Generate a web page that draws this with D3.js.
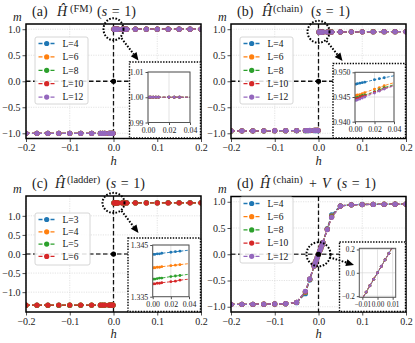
<!DOCTYPE html>
<html><head><meta charset="utf-8">
<script src="https://cdn.jsdelivr.net/npm/d3@7"></script>
<style>
html,body{margin:0;padding:0;background:#fff;}
svg{display:block;font-family:"Liberation Serif","Times New Roman",serif;}
svg text{font-family:"Liberation Serif","Times New Roman",serif;}
</style></head>
<body><svg id="c" width="415" height="343"></svg>
<script>
// ---------------- data ----------------
const hNeg = [-0.2,-0.175,-0.15,-0.125,-0.1,-0.075,-0.05,-0.03,-0.025,-0.02,-0.01,-0.0075,-0.005,-0.0025,-0.001];
const hPos = [0.001,0.0025,0.005,0.0075,0.01,0.02,0.025,0.03,0.05,0.075,0.1,0.125,0.15,0.175,0.2];
const hD   = [-0.2,-0.175,-0.15,-0.125,-0.1,-0.075,-0.05,-0.03,-0.02,-0.01,-0.0075,-0.005,-0.0025,0,0.0025,0.005,0.0075,0.01,0.02,0.03,0.05,0.075,0.1,0.125,0.15,0.175,0.2];

const labelsChain  = ["L=4","L=6","L=8","L=10","L=12"];
const labelsLadder = ["L=3","L=4","L=5","L=6"];
const colors = ["#1f77b4","#ff7f0e","#2ca02c","#d62728","#9467bd"];

// (a) FM model: saturated magnetisation, identical for all L
const mFMneg = [-1,-1,-1,-1,-1,-1,-1,-1,-1,-1,-1,-1,-1,-1,-1];
const mFMpos = [1,1,1,1,1,1,1,1,1,1,1,1,1,1,1];

// (b) chain model
const mChainPos = [
  [0.9476,0.9477,0.9478,0.9479,0.9480,0.9485,0.9487,0.9489,0.9497,0.9506,0.9514,0.9521,0.9527,0.9532,0.9536],
  [0.9453,0.9454,0.9455,0.9457,0.9459,0.9466,0.9469,0.9473,0.9485,0.9498,0.9509,0.9518,0.9526,0.9532,0.9537],
  [0.9448,0.9449,0.9451,0.9453,0.9454,0.9461,0.9465,0.9469,0.9481,0.9495,0.9507,0.9516,0.9524,0.9530,0.9535],
  [0.9446,0.9447,0.9449,0.9451,0.9452,0.9460,0.9463,0.9467,0.9480,0.9494,0.9506,0.9515,0.9523,0.9529,0.9534],
  [0.9443,0.9444,0.9446,0.9448,0.9450,0.9458,0.9462,0.9466,0.9479,0.9493,0.9505,0.9514,0.9522,0.9528,0.9533]
];
const mChainNeg = [
  [-0.9536,-0.9532,-0.9527,-0.9521,-0.9514,-0.9506,-0.9497,-0.9489,-0.9487,-0.9485,-0.9480,-0.9479,-0.9478,-0.9477,-0.9476],
  [-0.9537,-0.9532,-0.9526,-0.9518,-0.9509,-0.9498,-0.9485,-0.9473,-0.9469,-0.9466,-0.9459,-0.9457,-0.9455,-0.9454,-0.9453],
  [-0.9535,-0.9530,-0.9524,-0.9516,-0.9507,-0.9495,-0.9481,-0.9469,-0.9465,-0.9461,-0.9454,-0.9453,-0.9451,-0.9449,-0.9448],
  [-0.9534,-0.9529,-0.9523,-0.9515,-0.9506,-0.9494,-0.9480,-0.9467,-0.9463,-0.9460,-0.9452,-0.9451,-0.9449,-0.9447,-0.9446],
  [-0.9533,-0.9528,-0.9522,-0.9514,-0.9505,-0.9493,-0.9479,-0.9466,-0.9462,-0.9458,-0.9450,-0.9448,-0.9446,-0.9444,-0.9443]
];

// (c) ladder model
const mLadderPos = [
  [1.3432,1.3432,1.3433,1.3433,1.3434,1.3436,1.3437,1.3438,1.3442,1.3446,1.3450,1.3453,1.3456,1.3459,1.3461],
  [1.3406,1.3406,1.3407,1.3407,1.3408,1.3410,1.3411,1.3412,1.3416,1.3420,1.3424,1.3427,1.3430,1.3433,1.3435],
  [1.3384,1.3384,1.3385,1.3386,1.3386,1.3389,1.3390,1.3391,1.3396,1.3401,1.3405,1.3409,1.3412,1.3415,1.3418],
  [1.3375,1.3375,1.3376,1.3376,1.3377,1.3379,1.3380,1.3382,1.3386,1.3390,1.3394,1.3398,1.3401,1.3404,1.3406]
];
const mLadderNeg = [
  [-1.3461,-1.3459,-1.3456,-1.3453,-1.3450,-1.3446,-1.3442,-1.3438,-1.3437,-1.3436,-1.3434,-1.3433,-1.3433,-1.3432,-1.3432],
  [-1.3435,-1.3433,-1.3430,-1.3427,-1.3424,-1.3420,-1.3416,-1.3412,-1.3411,-1.3410,-1.3408,-1.3407,-1.3407,-1.3406,-1.3406],
  [-1.3418,-1.3415,-1.3412,-1.3409,-1.3405,-1.3401,-1.3396,-1.3391,-1.3390,-1.3389,-1.3386,-1.3386,-1.3385,-1.3384,-1.3384],
  [-1.3406,-1.3404,-1.3401,-1.3398,-1.3394,-1.3390,-1.3386,-1.3382,-1.3380,-1.3379,-1.3377,-1.3376,-1.3376,-1.3375,-1.3375]
];

// (d) chain + V
const mChainV = [
  [-0.957,-0.956,-0.954,-0.952,-0.949,-0.944,-0.922,-0.750,-0.490,-0.225,-0.168,-0.112,-0.056,0,0.056,0.112,0.168,0.225,0.490,0.750,0.922,0.944,0.949,0.952,0.954,0.956,0.957],
  [-0.956,-0.955,-0.953,-0.951,-0.948,-0.943,-0.919,-0.725,-0.480,-0.222,-0.166,-0.111,-0.055,0,0.055,0.111,0.166,0.222,0.480,0.725,0.919,0.943,0.948,0.951,0.953,0.955,0.956],
  [-0.955,-0.954,-0.952,-0.950,-0.947,-0.942,-0.918,-0.715,-0.475,-0.221,-0.165,-0.110,-0.055,0,0.055,0.110,0.165,0.221,0.475,0.715,0.918,0.942,0.947,0.950,0.952,0.954,0.955],
  [-0.955,-0.954,-0.952,-0.950,-0.947,-0.942,-0.917,-0.710,-0.472,-0.220,-0.165,-0.110,-0.055,0,0.055,0.110,0.165,0.220,0.472,0.710,0.917,0.942,0.947,0.950,0.952,0.954,0.955],
  [-0.955,-0.954,-0.952,-0.950,-0.947,-0.942,-0.917,-0.705,-0.470,-0.220,-0.165,-0.110,-0.055,0,0.055,0.110,0.165,0.220,0.470,0.705,0.917,0.942,0.947,0.950,0.952,0.954,0.955]
];

const mainXTicks = [-0.2,-0.1,0.0,0.1,0.2];
const mainYTicks = [-1.0,-0.5,0.0,0.5,1.0];

// ---------------- drawing ----------------
const FONT = "Liberation Serif, Times New Roman, serif";
const svg = d3.select("#c");
let clipId = 0;

function drawAxesBox(g, x, y, xTicks, yTicks, xFmt, yFmt, fs, tickLen, gridDash) {
  const [xl, xr] = x.range(); const [yb, yt] = y.range();
  g.append("g").selectAll("line").data(xTicks).join("line")
    .attr("x1", d => x(d)).attr("x2", d => x(d)).attr("y1", yt).attr("y2", yb)
    .attr("stroke", "#d0d0d0").attr("stroke-width", 0.6).attr("stroke-dasharray", gridDash);
  g.append("g").selectAll("line").data(yTicks).join("line")
    .attr("y1", d => y(d)).attr("y2", d => y(d)).attr("x1", xl).attr("x2", xr)
    .attr("stroke", "#d0d0d0").attr("stroke-width", 0.6).attr("stroke-dasharray", gridDash);
  const ax = g.append("g").attr("transform", `translate(0,${yb})`)
    .call(d3.axisBottom(x).tickValues(xTicks).tickFormat(xFmt).tickSize(tickLen).tickSizeOuter(0).tickPadding(2));
  const ay = g.append("g").attr("transform", `translate(${xl},0)`)
    .call(d3.axisLeft(y).tickValues(yTicks).tickFormat(yFmt).tickSize(tickLen).tickSizeOuter(0).tickPadding(2));
  [ax, ay].forEach(a => {
    a.attr("font-family", FONT).attr("font-size", fs);
    a.select(".domain").remove();
    a.selectAll("text").attr("font-size", fs).attr("fill", "#222").attr("font-family", FONT);
    a.selectAll("line").attr("stroke", "#222").attr("stroke-width", 0.8);
  });
}

function frame(g, x, y, w, c) {
  const [xl, xr] = x.range(); const [yb, yt] = y.range();
  g.append("rect").attr("x", xl).attr("y", yt).attr("width", xr - xl).attr("height", yb - yt)
    .attr("fill", "none").attr("stroke", c).attr("stroke-width", w);
}

function clip(g, x, y) {
  const id = "clip" + (clipId++);
  const [xl, xr] = x.range(); const [yb, yt] = y.range();
  svg.append("clipPath").attr("id", id).append("rect")
    .attr("x", xl).attr("y", yt).attr("width", xr - xl).attr("height", yb - yt);
  return g.append("g").attr("clip-path", `url(#${id})`);
}

function drawSeries(g, x, y, segsPerSeries, r, lw, dash) {
  const line = d3.line().x(d => x(d[0])).y(d => y(d[1]));
  segsPerSeries.forEach((segs, k) => {
    const col = colors[k];
    segs.forEach(seg => {
      g.append("path").attr("d", line(seg)).attr("fill", "none").attr("stroke", col)
        .attr("stroke-width", lw).attr("stroke-dasharray", dash);
      g.append("g").selectAll("circle").data(seg).join("circle")
        .attr("cx", d => x(d[0])).attr("cy", d => y(d[1])).attr("r", r).attr("fill", col);
    });
  });
}

function panel(P) {
  const g = svg.append("g");
  const x = d3.scaleLinear([-0.2, 0.2], [P.ax.l, P.ax.r]);
  const y = d3.scaleLinear(P.ydom, [P.ax.b, P.ax.t]);
  drawAxesBox(g, x, y, mainXTicks, mainYTicks, d3.format(".1f"), d3.format(".1f"), 10, 3.5, "1.2,1.2");
  const cg = clip(g, x, y);
  cg.append("line").attr("x1", x(0)).attr("x2", x(0)).attr("y1", P.ax.t).attr("y2", P.ax.b)
    .attr("stroke", "#111").attr("stroke-width", 1.3).attr("stroke-dasharray", "4.5,2.5");
  cg.append("line").attr("x1", P.ax.l).attr("x2", P.ax.r).attr("y1", y(0)).attr("y2", y(0))
    .attr("stroke", P.hcol).attr("stroke-width", 1.3).attr("stroke-dasharray", "4.5,2.5");
  drawSeries(cg, x, y, P.series, 2.6, 1.3, "4,2");
  cg.append("circle").attr("cx", x(0)).attr("cy", y(0)).attr("r", 2.6).attr("fill", "#000");
  frame(g, x, y, 1.5, "#000");

  // inset
  const I = P.inset;
  g.append("rect").attr("x", I.box.l).attr("y", I.box.t).attr("width", I.box.r - I.box.l).attr("height", I.box.b - I.box.t)
    .attr("fill", "#fff").attr("stroke", "#000").attr("stroke-width", 1.4).attr("stroke-dasharray", "1.4,1.4");
  const xi = d3.scaleLinear(I.xdom, [I.ax.l, I.ax.r]);
  const yi = d3.scaleLinear(I.ydom, [I.ax.b, I.ax.t]);
  drawAxesBox(g, xi, yi, I.xticks, I.yticks, d3.format(I.xfmt), d3.format(I.yfmt), I.fs || 7.8, 2.5, null);
  const ci = clip(g, xi, yi);
  drawSeries(ci, xi, yi, P.series, 1.4, 0.9, "3,1.5");
  frame(g, xi, yi, 1, "#555");

  // circle + arrow
  const cx = x(P.circ.h), cy = y(P.circ.m);
  g.append("ellipse").attr("cx", cx).attr("cy", cy).attr("rx", P.circ.rx).attr("ry", P.circ.ry)
    .attr("fill", "none").attr("stroke", "#000").attr("stroke-width", 2).attr("stroke-dasharray", "1.6,1.6");
  const s = [cx + P.arrow.sx, cy + P.arrow.sy], e = [P.arrow.ex, P.arrow.ey];
  const dx = e[0] - s[0], dy = e[1] - s[1], L = Math.hypot(dx, dy), ux = dx / L, uy = dy / L;
  const hl = 8, hw = 3.6;
  const b = [e[0] - ux * hl, e[1] - uy * hl];
  g.append("line").attr("x1", s[0]).attr("y1", s[1]).attr("x2", b[0]).attr("y2", b[1])
    .attr("stroke", "#000").attr("stroke-width", 2).attr("stroke-dasharray", "1.6,1.6");
  g.append("path").attr("d", `M${e[0]},${e[1]}L${b[0] - uy * hw},${b[1] + ux * hw}L${b[0] + uy * hw},${b[1] - ux * hw}Z`).attr("fill", "#000");

  // legend
  const Lg = P.legend;
  const lg = g.append("g");
  lg.append("rect").attr("x", Lg.l).attr("y", Lg.t).attr("width", Lg.w).attr("height", Lg.h).attr("rx", 2)
    .attr("fill", "#fff").attr("fill-opacity", 0.85).attr("stroke", "#ccc").attr("stroke-width", 0.8);
  P.labels.forEach((lab, k) => {
    const yy = Lg.t + Lg.first + k * Lg.step;
    lg.append("line").attr("x1", Lg.l + 3.5).attr("x2", Lg.l + 20).attr("y1", yy).attr("y2", yy)
      .attr("stroke", colors[k]).attr("stroke-width", 1.3).attr("stroke-dasharray", "4,2");
    lg.append("circle").attr("cx", Lg.l + 11.7).attr("cy", yy).attr("r", 2.6).attr("fill", colors[k]);
    lg.append("text").attr("x", Lg.l + 27.5).attr("y", yy + 3.3).attr("font-size", 9.5).attr("fill", "#111").text(lab);
  });

  // title (pieces placed along the baseline)
  const T = P.title;
  const t = g.append("text").attr("y", T.y).attr("font-size", 14).attr("fill", "#222");
  t.append("tspan").attr("x", T.x).text(T.tag);
  t.append("tspan").attr("x", T.x + T.pos[0]).attr("font-style", "italic").text("Ĥ");
  t.append("tspan").attr("x", T.x + T.pos[1]).attr("y", T.y - 4.5).attr("font-size", 10.5).text(T.sup);
  if (T.extra) {
    t.append("tspan").attr("x", T.x + T.pos[3]).attr("y", T.y).text("+");
    t.append("tspan").attr("x", T.x + T.pos[4]).attr("font-style", "italic").text("V");
  }
  t.append("tspan").attr("x", T.x + T.pos[2]).attr("y", T.y).text("(");
  t.append("tspan").attr("font-style", "italic").text("s");
  t.append("tspan").text("\u2004=\u2004");
  t.append("tspan").text("1)");

  // axis labels
  g.append("text").attr("x", P.mlab.x).attr("y", P.mlab.y).attr("font-size", 12).attr("font-style", "italic").attr("fill", "#222").text("m");
  g.append("text").attr("x", x(0)).attr("y", P.hlab).attr("text-anchor", "middle").attr("font-size", 12.5).attr("font-style", "italic").attr("fill", "#222").text("h");
}

panel({
  ax: {l: 26, r: 201, t: 24, b: 138.5}, ydom: [-1.1, 1.1], hcol: "#111",
  series: labelsChain.map((_, k) => [hNeg.map((h, i) => [h, mFMneg[i]]), hPos.map((h, i) => [h, mFMpos[i]])]),
  inset: {box: {l: 129.5, t: 62, r: 200.5, b: 138}, ax: {l: 148, r: 190, t: 72, b: 122.5},
          xdom: [0, 0.04], ydom: [0.99, 1.01], xticks: [0, 0.02, 0.04], yticks: [0.99, 1.0, 1.01], xfmt: ".2f", yfmt: ".2f"},
  circ: {h: 0, m: 1.0, rx: 10, ry: 11}, arrow: {sx: 8, sy: 9, ex: 138.5, ey: 60.5},
  legend: {l: 35, t: 37, w: 53, h: 67, first: 6.5, step: 13.4},
  labels: labelsChain,
  title: {x: 32, y: 16, tag: "(a)", sup: "(FM)", pos: [25, 38, 65]},
  mlab: {x: 13, y: 21}, hlab: 165
});

panel({
  ax: {l: 231, r: 406, t: 24, b: 138.5}, ydom: [-1.1, 1.1], hcol: "#111",
  series: labelsChain.map((_, k) => [hNeg.map((h, i) => [h, mChainNeg[k][i]]), hPos.map((h, i) => [h, mChainPos[k][i]])]),
  inset: {box: {l: 333, t: 63.5, r: 405.5, b: 138}, ax: {l: 355, r: 394, t: 72.3, b: 121.7},
          xdom: [0, 0.04], ydom: [0.94, 0.95], xticks: [0, 0.02, 0.04], yticks: [0.94, 0.945, 0.95], xfmt: ".2f", yfmt: ".3f"},
  circ: {h: 0, m: 0.95, rx: 11, ry: 11}, arrow: {sx: 8, sy: 9, ex: 342.5, ey: 61},
  legend: {l: 240, t: 37, w: 53, h: 67, first: 6.5, step: 13.4},
  labels: labelsChain,
  title: {x: 237, y: 16, tag: "(b)", sup: "(chain)", pos: [25, 36, 74]},
  mlab: {x: 218, y: 21}, hlab: 165
});

panel({
  ax: {l: 26, r: 201, t: 196, b: 312}, ydom: [-1.52, 1.52], hcol: "#444",
  series: labelsLadder.map((_, k) => [hNeg.map((h, i) => [h, mLadderNeg[k][i]]), hPos.map((h, i) => [h, mLadderPos[k][i]])]),
  inset: {box: {l: 128, t: 238, r: 200.5, b: 311.5}, ax: {l: 152.7, r: 189, t: 245, b: 296.7},
          xdom: [0, 0.04], ydom: [1.335, 1.345], xticks: [0, 0.02, 0.04], yticks: [1.335, 1.345], xfmt: ".2f", yfmt: ".3f"},
  circ: {h: 0, m: 1.34, rx: 11, ry: 10}, arrow: {sx: 8, sy: 8, ex: 138.5, ey: 233},
  legend: {l: 35, t: 213, w: 55, h: 52, first: 6.5, step: 12.3},
  labels: labelsLadder,
  title: {x: 32, y: 187.5, tag: "(c)", sup: "(ladder)", pos: [23, 35, 74]},
  mlab: {x: 13, y: 193}, hlab: 338
});

panel({
  ax: {l: 231, r: 406, t: 196.5, b: 312}, ydom: [-1.1, 1.1], hcol: "#444",
  series: labelsChain.map((_, k) => [hD.map((h, i) => [h, mChainV[k][i]])]),
  inset: {box: {l: 339.5, t: 242, r: 405.5, b: 311.5}, ax: {l: 359.3, r: 395.7, t: 248.3, b: 297.3}, fs: 7.2,
          xdom: [-0.012, 0.012], ydom: [-0.21, 0.21], xticks: [-0.01, 0, 0.01], yticks: [-0.2, 0, 0.2], xfmt: ".2f", yfmt: ".1f"},
  circ: {h: 0, m: 0, rx: 12, ry: 12}, arrow: {sx: 11, sy: 3, ex: 354, ey: 265},
  legend: {l: 240, t: 197, w: 53, h: 66, first: 6.5, step: 13.2},
  labels: labelsChain,
  title: {x: 237, y: 187.5, tag: "(d)", sup: "(chain)", extra: true, pos: [23, 36, 100, 72, 85]},
  mlab: {x: 218, y: 193}, hlab: 338
});
</script></body></html>
